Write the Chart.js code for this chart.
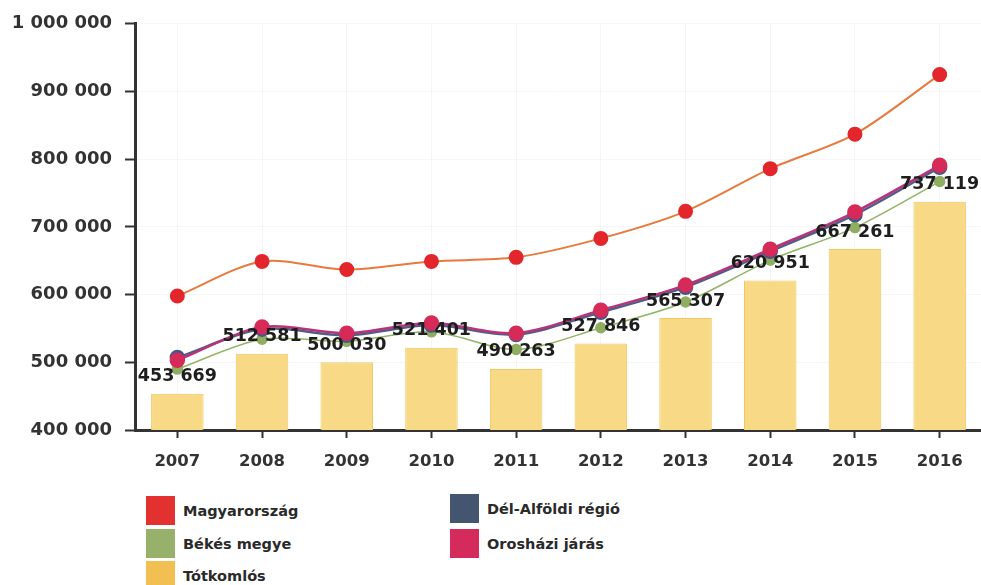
<!DOCTYPE html>
<html>
<head>
<meta charset="utf-8">
<script src="https://cdn.jsdelivr.net/npm/chart.js@4"></script>
<style>
  html, body { margin: 0; padding: 0; background: #fff; }
  body { width: 981px; height: 585px; position: relative; overflow: hidden; font-family: "DejaVu Sans", Verdana, sans-serif; }
  #wrap { position: absolute; left: 0; top: 0; width: 991px; height: 480px; }
  .leg { position: absolute; display: flex; align-items: center; font-weight: bold; font-size: 14.5px; color: #2a2a2a; }
  .leg span.box { display: inline-block; width: 29px; height: 29px; margin-right: 8px; }
</style>
</head>
<body>
<div id="wrap"><canvas id="c"></canvas></div>
<div id="legend"></div>
<script>
const years = ['2007','2008','2009','2010','2011','2012','2013','2014','2015','2016'];
const magyarorszag = [598000, 649000, 637000, 649000, 655000, 683000, 723000, 786000, 837000, 925000];
const delAlfoldi   = [507000, 549000, 540000, 555000, 541000, 574000, 611000, 664000, 718000, 788000];
const bekes        = [490000, 534000, 531000, 545000, 519000, 551000, 589000, 651000, 699000, 767000];
const oroshazi     = [503000, 552000, 543000, 558000, 543000, 577000, 614000, 667000, 722000, 791000];
const totkomlos    = [453669, 512581, 500030, 521401, 490263, 527846, 565307, 620951, 667261, 737119];
const yTicks = [400000, 500000, 600000, 700000, 800000, 900000, 1000000];
const seriesNames = ['Magyarország', 'Dél-Alföldi régió', 'Békés megye', 'Orosházi járás', 'Tótkomlós'];
const seriesColors = ['#e3312f', '#43556f', '#97b06a', '#d42a5c', '#f1bf52'];

function fmt(v) { return String(v).replace(/\B(?=(\d{3})+(?!\d))/g, ' '); }

const FONT = '"DejaVu Sans", Verdana, sans-serif';

const barLabels = {
  id: 'barLabels',
  afterDatasetsDraw(chart) {
    const ctx = chart.ctx;
    chart.data.datasets.forEach((ds, i) => {
      if (ds.type !== 'bar') return;
      const meta = chart.getDatasetMeta(i);
      ctx.save();
      ctx.font = 'bold 17.5px ' + FONT;
      ctx.fillStyle = '#1e1e1e';
      ctx.textAlign = 'center';
      ctx.textBaseline = 'middle';
      meta.data.forEach((el, j) => {
        ctx.fillText(fmt(ds.data[j]), el.x, el.y - 17);
      });
      ctx.restore();
    });
  }
};

const lineDs = (idx, data, lineColor, pointColor, order, width, r) => ({
  type: 'line', label: seriesNames[idx], data,
  borderColor: lineColor, backgroundColor: pointColor,
  pointBackgroundColor: pointColor, pointBorderColor: pointColor,
  borderWidth: width, pointRadius: r, tension: 0.3, order
});

new Chart(document.getElementById('c'), {
  data: {
    labels: years,
    datasets: [
      lineDs(0, magyarorszag, '#e9793c', '#e3262b', 1, 2, 6.5),
      lineDs(1, delAlfoldi, '#4d5f86', '#3f5a8a', 3, 2.5, 6.5),
      lineDs(2, bekes, '#8fb565', '#8fae62', 4, 1.5, 5),
      lineDs(3, oroshazi, '#b8347a', '#d62a58', 2, 2.5, 6.5),
      { type: 'bar', label: seriesNames[4], data: totkomlos,
        backgroundColor: '#f8d985', borderColor: '#f0c862', borderWidth: 1,
        barPercentage: 0.62, categoryPercentage: 1, order: 10 }
    ]
  },
  options: {
    responsive: true, maintainAspectRatio: false, animation: false,
    layout: { padding: { top: 23, right: 0, left: 0, bottom: 0 } },
    plugins: { legend: { display: false }, tooltip: { enabled: false } },
    scales: {
      x: {
        offset: true,
        grid: { color: 'rgba(0,0,0,0.04)', tickColor: '#333', tickLength: 8, tickWidth: 2, offset: false, drawOnChartArea: true },
        border: { color: '#333', width: 3 },
        ticks: { color: '#333', font: { family: FONT, size: 16.5, weight: 'bold' }, padding: 14 },
        afterFit(s) { s.height = 50; }
      },
      y: {
        min: 400000, max: 1000000,
        afterBuildTicks(s) { s.ticks = yTicks.map(v => ({ value: v })); },
        grid: { color: 'rgba(0,0,0,0.035)', tickColor: '#333', tickLength: 10, tickWidth: 2 },
        border: { color: '#333', width: 3 },
        ticks: { color: '#333', font: { family: FONT, size: 18, weight: 'bold' }, padding: 13,
                 callback: v => fmt(v) },
        afterFit(s) { s.width = 135; }
      }
    }
  },
  plugins: [barLabels]
});

// HTML legend in two columns
const legendPos = [
  [146, 496], [450, 494], [146, 529], [450, 529], [146, 561]
];
const legend = document.getElementById('legend');
seriesNames.forEach((name, i) => {
  const d = document.createElement('div');
  d.className = 'leg';
  d.style.left = legendPos[i][0] + 'px';
  d.style.top = legendPos[i][1] + 'px';
  d.innerHTML = '<span class="box" style="background:' + seriesColors[i] + '"></span>' + name;
  legend.appendChild(d);
});
</script>
</body>
</html>
